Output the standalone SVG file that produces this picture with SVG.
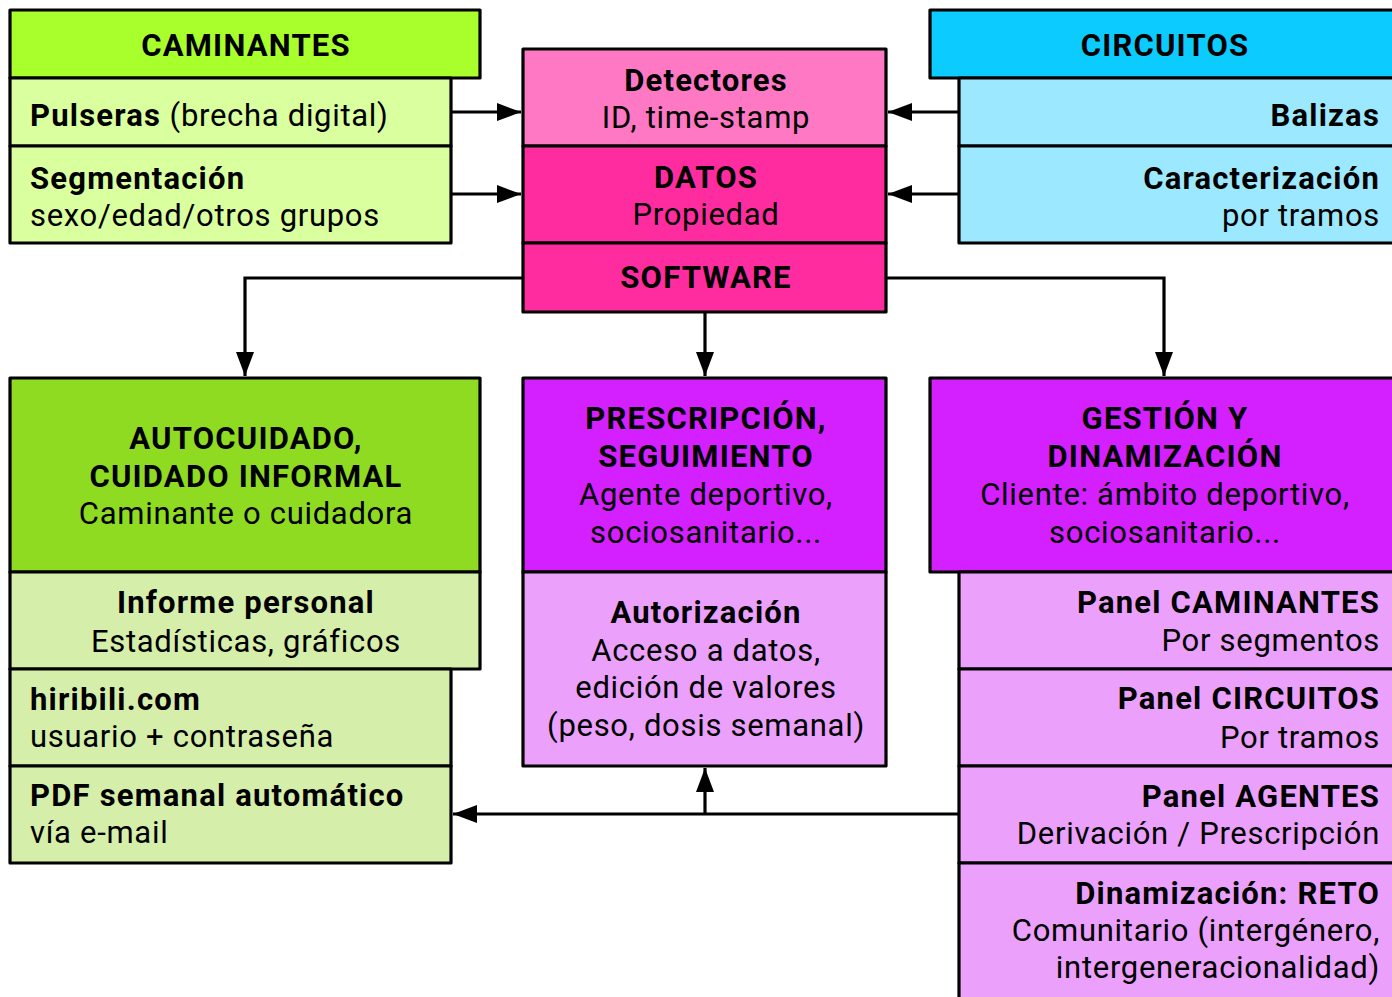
<svg xmlns="http://www.w3.org/2000/svg" width="1392" height="997" viewBox="0 0 1392 997">
<defs>
<style>
.box{stroke:#000;stroke-width:3.2;stroke-linejoin:round}
.cn{fill:none;stroke:#000;stroke-width:3.2}
text{font-family:Roboto,"Liberation Sans",sans-serif;font-size:31px;fill:#000;letter-spacing:0.7px}
.b{font-weight:bold;letter-spacing:1.2px}
.m{text-anchor:middle}
.e{text-anchor:end}
.g1{fill:#a8ff2c}.g2{fill:#d9ff9e}.p1{fill:#ff78c4}.p2{fill:#ff2ca0}
.c1{fill:#0ccbff}.c2{fill:#9ce9ff}.a1{fill:#8edb22}.a2{fill:#d5eeaa}
.v1{fill:#d41fff}.v2{fill:#eba0fc}
</style>
<marker id="ah" markerUnits="userSpaceOnUse" markerWidth="24" markerHeight="18" refX="24" refY="9" orient="auto">
<path d="M0,0 L24,9 L0,18 z" fill="#000"/>
</marker>
</defs>
<rect width="1392" height="997" fill="#fff"/>

<g id="connectors">
<path class="cn" d="M451,112 H521" marker-end="url(#ah)"/>
<path class="cn" d="M451,194 H521" marker-end="url(#ah)"/>
<path class="cn" d="M959,112 H888" marker-end="url(#ah)"/>
<path class="cn" d="M959,194 H888" marker-end="url(#ah)"/>
<path class="cn" d="M523,278 H245 V376" marker-end="url(#ah)"/>
<path class="cn" d="M886,278 H1164 V376" marker-end="url(#ah)"/>
<path class="cn" d="M705,312 V376" marker-end="url(#ah)"/>
<path class="cn" d="M959,814 H453" marker-end="url(#ah)"/>
<path class="cn" d="M705,814 V768" marker-end="url(#ah)"/>
</g>

<g id="caminantes">
<rect class="box g1" x="10" y="10" width="470" height="68"/>
<text class="b m" x="246" y="56">CAMINANTES</text>
</g>
<g id="pulseras">
<rect class="box g2" x="10" y="78" width="441" height="68"/>
<text x="30" y="126"><tspan class="b">Pulseras</tspan> (brecha digital)</text>
</g>
<g id="segmentacion">
<rect class="box g2" x="10" y="146" width="441" height="97"/>
<text class="b" x="30" y="189">Segmentación</text>
<text x="30" y="226">sexo/edad/otros grupos</text>
</g>

<g id="detectores">
<rect class="box p1" x="523" y="49" width="363" height="97"/>
<text class="b m" x="706" y="91">Detectores</text>
<text class="m" x="706" y="128">ID, time-stamp</text>
</g>
<g id="datos">
<rect class="box p2" x="523" y="146" width="363" height="97"/>
<text class="b m" x="706" y="188">DATOS</text>
<text class="m" x="706" y="225">Propiedad</text>
</g>
<g id="software">
<rect class="box p2" x="523" y="243" width="363" height="69"/>
<text class="b m" x="706" y="288">SOFTWARE</text>
</g>

<g id="circuitos">
<rect class="box c1" x="930" y="10" width="470" height="68"/>
<text class="b m" x="1165" y="56">CIRCUITOS</text>
</g>
<g id="balizas">
<rect class="box c2" x="959" y="78" width="441" height="68"/>
<text class="b e" x="1380" y="126">Balizas</text>
</g>
<g id="caracterizacion">
<rect class="box c2" x="959" y="146" width="441" height="97"/>
<text class="b e" x="1380" y="189">Caracterización</text>
<text class="e" x="1380" y="226">por tramos</text>
</g>

<g id="autocuidado">
<rect class="box a1" x="10" y="378" width="470" height="194"/>
<text class="b m" x="246" y="449">AUTOCUIDADO,</text>
<text class="b m" x="246" y="487">CUIDADO INFORMAL</text>
<text class="m" x="246" y="524">Caminante o cuidadora</text>
</g>
<g id="informe">
<rect class="box a2" x="10" y="572" width="470" height="97"/>
<text class="b m" x="246" y="613">Informe personal</text>
<text class="m" x="246" y="652">Estadísticas, gráficos</text>
</g>
<g id="hiribili">
<rect class="box a2" x="10" y="669" width="441" height="97"/>
<text class="b" x="30" y="710">hiribili.com</text>
<text x="30" y="747">usuario + contraseña</text>
</g>
<g id="pdf">
<rect class="box a2" x="10" y="766" width="441" height="97"/>
<text class="b" x="30" y="806">PDF semanal automático</text>
<text x="30" y="843">vía e-mail</text>
</g>

<g id="prescripcion">
<rect class="box v1" x="523" y="378" width="363" height="194"/>
<text class="b m" x="706" y="429">PRESCRIPCIÓN,</text>
<text class="b m" x="706" y="467">SEGUIMIENTO</text>
<text class="m" x="706" y="505">Agente deportivo,</text>
<text class="m" x="706" y="543">sociosanitario...</text>
</g>
<g id="autorizacion">
<rect class="box v2" x="523" y="572" width="363" height="194"/>
<text class="b m" x="706" y="623">Autorización</text>
<text class="m" x="706" y="661">Acceso a datos,</text>
<text class="m" x="706" y="698">edición de valores</text>
<text class="m" x="706" y="736">(peso, dosis semanal)</text>
</g>

<g id="gestion">
<rect class="box v1" x="930" y="378" width="470" height="194"/>
<text class="b m" x="1165" y="429">GESTIÓN Y</text>
<text class="b m" x="1165" y="467">DINAMIZACIÓN</text>
<text class="m" x="1165" y="505">Cliente: ámbito deportivo,</text>
<text class="m" x="1165" y="543">sociosanitario...</text>
</g>
<g id="panel-caminantes">
<rect class="box v2" x="959" y="572" width="441" height="97"/>
<text class="b e" x="1380" y="613">Panel CAMINANTES</text>
<text class="e" x="1380" y="651">Por segmentos</text>
</g>
<g id="panel-circuitos">
<rect class="box v2" x="959" y="669" width="441" height="97"/>
<text class="b e" x="1380" y="709">Panel CIRCUITOS</text>
<text class="e" x="1380" y="748">Por tramos</text>
</g>
<g id="panel-agentes">
<rect class="box v2" x="959" y="766" width="441" height="97"/>
<text class="b e" x="1380" y="807">Panel AGENTES</text>
<text class="e" x="1380" y="844">Derivación / Prescripción</text>
</g>
<g id="dinamizacion">
<rect class="box v2" x="959" y="863" width="441" height="150"/>
<text class="b e" x="1380" y="904">Dinamización: RETO</text>
<text class="e" x="1380" y="941">Comunitario (intergénero,</text>
<text class="e" x="1380" y="978">intergeneracionalidad)</text>
</g>
</svg>
